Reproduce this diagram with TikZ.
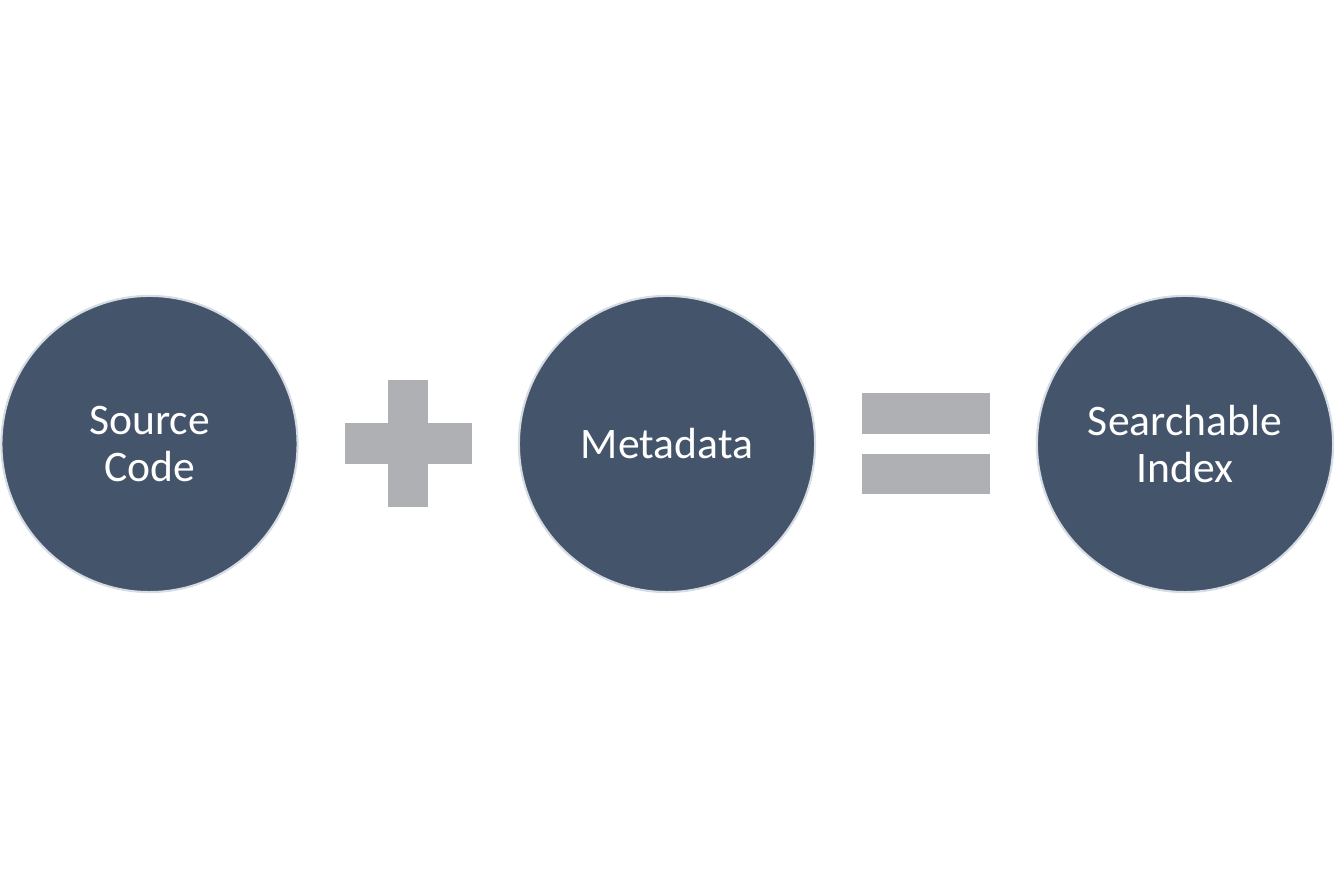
\documentclass[tikz,border=0pt]{standalone}
\usepackage{fontspec}
\setmainfont{Carlito}
\definecolor{slate}{HTML}{44546A}
\definecolor{rim}{HTML}{D6DCE4}
\definecolor{sign}{HTML}{AEB0B3}
\begin{document}
\begin{tikzpicture}[x=0.01cm, y=-0.01cm]
\tikzstyle{bolha}=[circle, minimum size=2.96cm, inner sep=0, fill=slate, draw=rim, line width=0.6pt, text=white, align=center, font=\fontsize{12.4}{13.4}\selectfont]
\useasboundingbox (0,0) rectangle (1335,889);
\node[bolha] (fonte) at(149.5,444){Source\\Code};
\node[bolha] (meta) at(667,444){Metadata};
\node[bolha] (indice) at(1185,444){Searchable\\Index};
\fill[sign](388,380) rectangle (428,507);
\fill[sign](345,423) rectangle (472,464);
\fill[sign](862,393) rectangle (990,434);
\fill[sign](862,454) rectangle (990,494);
\end{tikzpicture}
\end{document}
